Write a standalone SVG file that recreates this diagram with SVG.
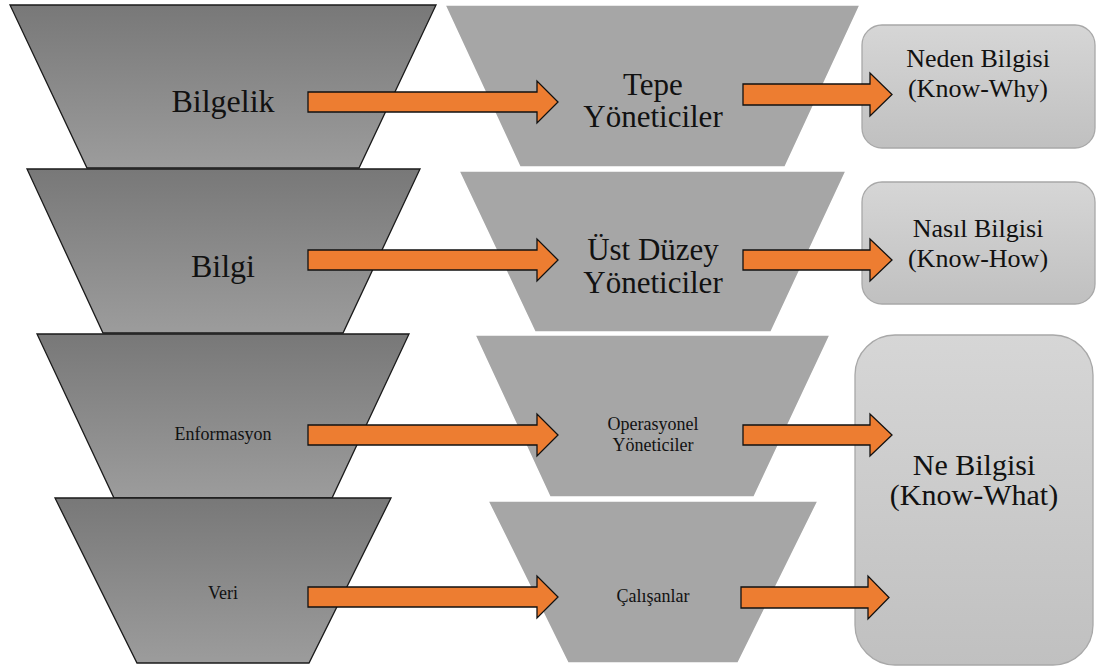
<svg xmlns="http://www.w3.org/2000/svg" width="1108" height="668" viewBox="0 0 1108 668">
<defs>
<linearGradient id="gDark" x1="0" y1="0" x2="0" y2="1">
<stop offset="0" stop-color="#787878"/>
<stop offset="1" stop-color="#9c9c9c"/>
</linearGradient>
<linearGradient id="gBox" x1="0" y1="0" x2="0" y2="1">
<stop offset="0" stop-color="#d6d6d6"/>
<stop offset="1" stop-color="#c0c0c0"/>
</linearGradient>
<style>
.lt{fill:url(#gDark);stroke:#1a1a1a;stroke-width:1.3}
.mt{fill:#a6a6a6;stroke:#ffffff;stroke-width:1.5}
.bx{fill:url(#gBox);stroke:#a8a8a8;stroke-width:1.3}
.ar{fill:#ed7d31;stroke:#111111;stroke-width:1.3;stroke-linejoin:miter}
.tx{fill:#111111;text-anchor:middle}
.f32{font-size:32px}
.f31{font-size:31px}
.f30{font-size:30px}
.f26{font-size:26px}
.f18{font-size:18px}
</style>
</defs>
<rect x="0" y="0" width="1108" height="668" fill="#ffffff"/>

<g font-family="'Liberation Serif', 'DejaVu Serif', serif">
<g id="left-bilgelik">
<polygon class="lt" points="10,5 436,5 359,168 87,168"/>
<text class="tx f32" x="223" y="112">Bilgelik</text>
</g>
<g id="left-bilgi">
<polygon class="lt" points="27,169 420,169 343,333 103,333"/>
<text class="tx f32" x="223" y="277">Bilgi</text>
</g>
<g id="left-enformasyon">
<polygon class="lt" points="37,334 409,334 332,498 114,498"/>
<text class="tx f18" x="223" y="440">Enformasyon</text>
</g>
<g id="left-veri">
<polygon class="lt" points="55,498 391,498 309,663 137,663"/>
<text class="tx f18" x="223" y="599">Veri</text>
</g>

<g id="mid-tepe">
<polygon class="mt" points="445,5 860,5 785,167 520,167"/>
<text class="tx f31" x="653" y="95">Tepe</text>
<text class="tx f31" x="653" y="127">Yöneticiler</text>
</g>
<g id="mid-ust">
<polygon class="mt" points="459,171 846,171 771,332 535,332"/>
<text class="tx f31" x="653" y="260">Üst Düzey</text>
<text class="tx f31" x="653" y="293">Yöneticiler</text>
</g>
<g id="mid-operasyonel">
<polygon class="mt" points="475,335 830,335 754,497 550,497"/>
<text class="tx f18" x="653" y="430">Operasyonel</text>
<text class="tx f18" x="653" y="451">Yöneticiler</text>
</g>
<g id="mid-calisanlar">
<polygon class="mt" points="488,501 818,501 738,663 568,663"/>
<text class="tx f18" x="653" y="602">Çalışanlar</text>
</g>

<g id="box-neden">
<rect class="bx" x="862" y="25" width="233" height="123" rx="20" ry="20"/>
<text class="tx f26" x="978" y="67">Neden Bilgisi</text>
<text class="tx f26" x="978" y="97">(Know-Why)</text>
</g>
<g id="box-nasil">
<rect class="bx" x="862" y="182" width="233" height="122" rx="20" ry="20"/>
<text class="tx f26" x="978" y="237">Nasıl Bilgisi</text>
<text class="tx f26" x="978" y="267">(Know-How)</text>
</g>
<g id="box-ne">
<rect class="bx" x="855" y="335" width="238" height="330" rx="40" ry="40"/>
<text class="tx f30" x="974" y="475">Ne Bilgisi</text>
<text class="tx f30" x="974" y="505">(Know-What)</text>
</g>
</g>

<g id="connectors">
<path class="ar" d="M308,92 H537 V81 L558,102 L537,123 V112 H308 Z"/>
<path class="ar" d="M308,250 H537 V239 L558,260 L537,281 V270 H308 Z"/>
<path class="ar" d="M308,425 H537 V414 L558,435 L537,456 V445 H308 Z"/>
<path class="ar" d="M308,587 H537 V576 L558,597 L537,618 V607 H308 Z"/>
<path class="ar" d="M743,84 H870 V73 L892,94.5 L870,116 V105 H743 Z"/>
<path class="ar" d="M743,250 H870 V239 L892,260 L870,281 V270 H743 Z"/>
<path class="ar" d="M743,425 H870 V414 L892,435 L870,456 V445 H743 Z"/>
<path class="ar" d="M741,587 H868 V576 L889,597.5 L868,619 V608 H741 Z"/>
</g>
</svg>
